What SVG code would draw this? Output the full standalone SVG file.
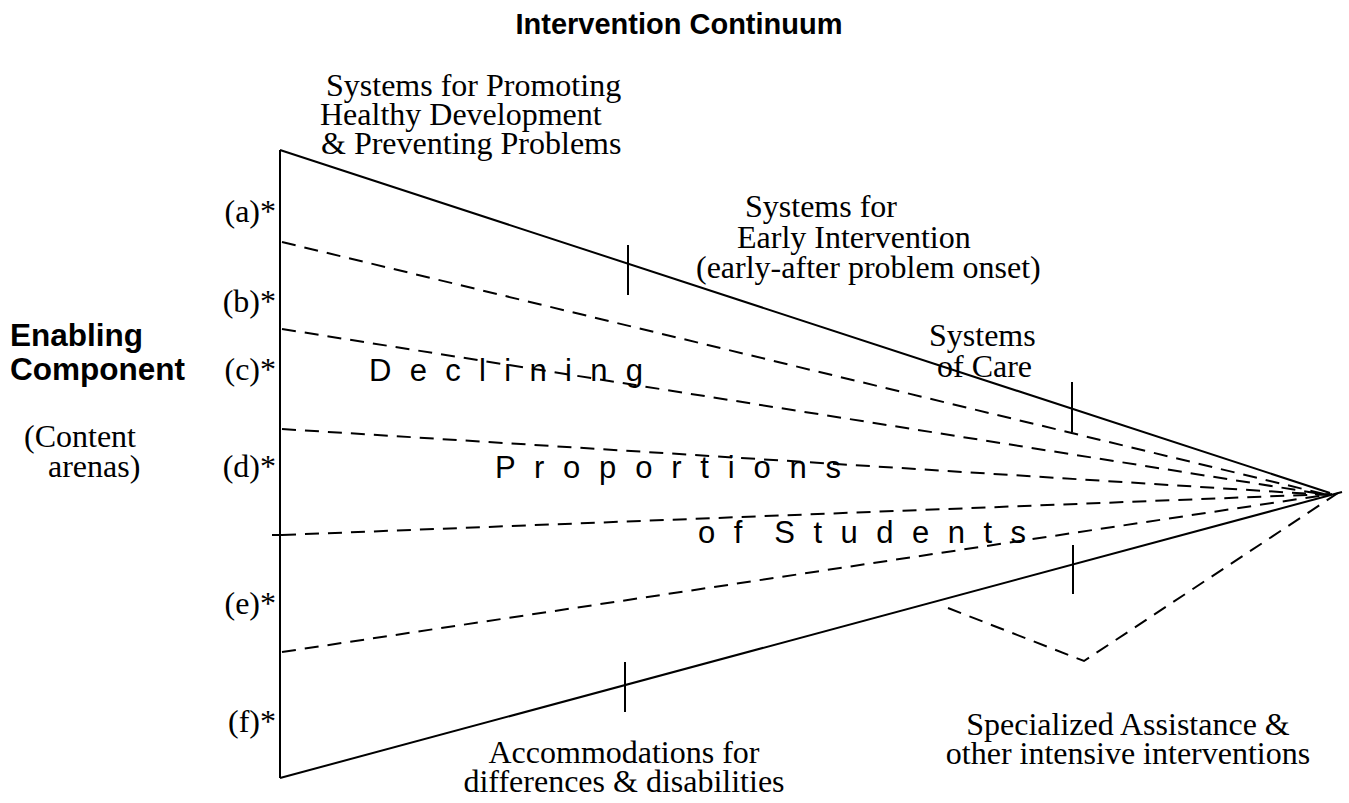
<svg xmlns="http://www.w3.org/2000/svg" width="1349" height="803" viewBox="0 0 1349 803">
<style>
.s{font-family:"Liberation Serif","Times New Roman",serif;font-size:32px;fill:#000}
.b{font-family:"Liberation Sans",Arial,sans-serif;font-weight:bold;font-size:29px;fill:#000}
.b2{font-family:"Liberation Sans",Arial,sans-serif;font-weight:bold;font-size:31.5px;fill:#000}
.w{font-family:"Liberation Sans",Arial,sans-serif;font-size:31px;fill:#000;white-space:pre}
.solid{stroke:#000;stroke-width:2;fill:none}
.dash{stroke:#000;stroke-width:2;fill:none;stroke-dasharray:14 9}
</style>
<rect width="1349" height="803" fill="#fff"/>
<g id="title"><text class="b" x="679" y="34" text-anchor="middle">Intervention Continuum</text></g>
<g id="connectors">
<line class="solid" x1="280" y1="150" x2="280" y2="778"/>
<line class="solid" x1="280" y1="150" x2="1330" y2="493"/>
<line class="solid" x1="280" y1="778" x2="1342" y2="492"/>
<line class="solid" x1="628" y1="245" x2="628" y2="295"/>
<line class="solid" x1="1072" y1="382" x2="1072" y2="432"/>
<line class="solid" x1="1073" y1="545" x2="1073" y2="594"/>
<line class="solid" x1="625" y1="662" x2="625" y2="712"/>
<line class="solid" x1="272" y1="535" x2="282" y2="535"/>
<line class="dash" x1="282" y1="242" x2="1328" y2="495"/>
<line class="dash" x1="282" y1="329" x2="1328" y2="495"/>
<line class="dash" x1="282" y1="429" x2="1328" y2="495"/>
<line class="dash" x1="282" y1="535" x2="1330" y2="494"/>
<line class="dash" x1="282" y1="652" x2="1332" y2="494"/>
<polyline class="dash" points="948,608 1084,661 1338,493"/>
</g>
<g id="left-labels">
<text class="b2" x="10" y="346">Enabling</text>
<text class="b2" x="10" y="380">Component</text>
<text class="s" x="24" y="447">(Content</text>
<text class="s" x="48" y="477">arenas)</text>
</g>
<g id="arenas">
<text class="s" x="276" y="222" text-anchor="end">(a)*</text>
<text class="s" x="276" y="312" text-anchor="end">(b)*</text>
<text class="s" x="276" y="380" text-anchor="end">(c)*</text>
<text class="s" x="276" y="477" text-anchor="end">(d)*</text>
<text class="s" x="276" y="614" text-anchor="end">(e)*</text>
<text class="s" x="276" y="732" text-anchor="end">(f)*</text>
</g>
<g id="promoting">
<text class="s" x="326" y="96">Systems for Promoting</text>
<text class="s" x="320" y="125">Healthy Development</text>
<text class="s" x="321" y="154">&amp; Preventing Problems</text>
</g>
<g id="early">
<text class="s" x="745" y="217">Systems for</text>
<text class="s" x="737" y="248">Early Intervention</text>
<text class="s" x="696" y="278">(early-after problem onset)</text>
</g>
<g id="care">
<text class="s" x="929" y="346">Systems</text>
<text class="s" x="937" y="377">of Care</text>
</g>
<g id="accommodations">
<text class="s" x="624" y="763" text-anchor="middle">Accommodations for</text>
<text class="s" x="624" y="792" text-anchor="middle">differences &amp; disabilities</text>
</g>
<g id="specialized">
<text class="s" x="1128" y="735" text-anchor="middle">Specialized Assistance &amp;</text>
<text class="s" x="1128" y="764" text-anchor="middle">other intensive interventions</text>
</g>
<g id="proportions">
<text class="w" x="369" y="381" textLength="274" lengthAdjust="spacing">D e c l i n i n g</text>
<text class="w" x="495" y="478" textLength="346" lengthAdjust="spacing">P r o p o r t i o n s</text>
<text class="w" x="698" y="543" textLength="328" lengthAdjust="spacing">o f  S t u d e n t s</text>
</g>
</svg>
